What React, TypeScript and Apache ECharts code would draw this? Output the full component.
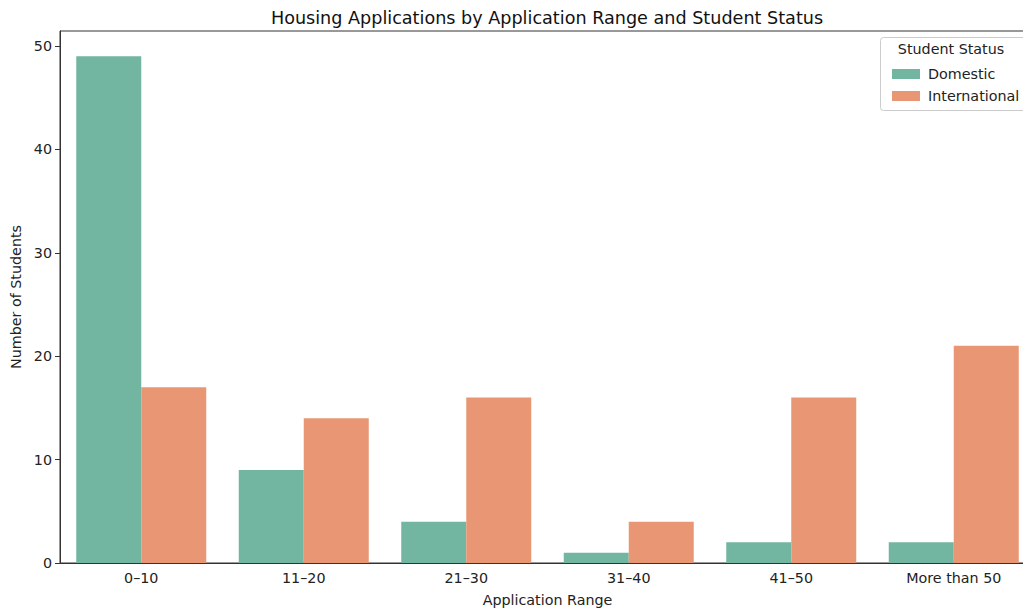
import React, { useEffect, useRef } from "react";
import * as echarts from "echarts";

const categories = ["0–10", "11–20", "21–30", "31–40", "41–50", "More than 50"];
const domestic = [49, 9, 4, 1, 2, 2];
const international = [17, 14, 16, 4, 16, 21];
const seriesNames = ["Domestic", "International"];
const yTicks = [0, 10, 20, 30, 40, 50];

export default function App() {
  const ref = useRef<HTMLDivElement>(null);
  useEffect(() => {
    if (!ref.current) return;
    const chart = echarts.init(ref.current, null, { renderer: "svg" });
    const font = "DejaVu Sans";
    const fs = 14.3;
    chart.setOption({
      animation: false,
      backgroundColor: "#ffffff",
      textStyle: { fontFamily: font },
      title: {
        text: "Housing Applications by Application Range and Student Status",
        left: 542,
        top: 4,
        textAlign: "center",
        textStyle: { fontFamily: font, fontSize: 17.6, fontWeight: "normal", color: "#111" },
      },
      grid: { left: 60, top: 31, width: 975, height: 532, show: true, borderColor: "#333", borderWidth: 1 },
      legend: {
        orient: "vertical",
        left: 887,
        top: 62,
        itemWidth: 28,
        itemHeight: 10,
        itemGap: 8,
        icon: "rect",
        data: seriesNames,
        textStyle: { fontFamily: font, fontSize: fs, color: "#222", padding: [0, 0, 0, 3] },
      },
      graphic: [
        {
          type: "rect",
          shape: { x: 880.5, y: 37.5, width: 170, height: 73, r: 3 },
          style: { fill: "rgba(255,255,255,0.8)", stroke: "#cccccc", lineWidth: 1 },
          z: 0,
        },
        {
          type: "text",
          x: 951,
          y: 42,
          style: { text: "Student Status", fontFamily: font, fontSize: fs, fill: "#222", textAlign: "center" },
          z: 10,
        },
      ],
      xAxis: {
        type: "category",
        data: categories,
        name: "Application Range",
        nameLocation: "middle",
        nameGap: 30,
        nameTextStyle: { fontFamily: font, fontSize: fs, color: "#222" },
        axisLine: { lineStyle: { color: "#333", width: 1 } },
        axisTick: { alignWithLabel: true, length: 5, lineStyle: { color: "#333" } },
        axisLabel: { fontFamily: font, fontSize: fs, color: "#222", margin: 8 },
        splitLine: { show: false },
      },
      yAxis: {
        type: "value",
        min: 0,
        max: 51.45,
        interval: 10,
        name: "Number of Students",
        nameLocation: "middle",
        nameGap: 36,
        nameTextStyle: { fontFamily: font, fontSize: fs, color: "#222" },
        axisLine: { show: true, lineStyle: { color: "#333", width: 1 } },
        axisTick: { show: true, length: 5, lineStyle: { color: "#333" } },
        axisLabel: {
          fontFamily: font,
          fontSize: fs,
          color: "#222",
          margin: 8,
          showMaxLabel: false,
          formatter: (v: number) => (yTicks.includes(v) ? String(v) : ""),
        },
        splitLine: { show: false },
      },
      series: [
        {
          name: seriesNames[0],
          type: "bar",
          data: domestic,
          barGap: "0%",
          barCategoryGap: "20%",
          itemStyle: { color: "#72b6a1" },
          z: 3,
        },
        {
          name: seriesNames[1],
          type: "bar",
          data: international,
          barGap: "0%",
          barCategoryGap: "20%",
          itemStyle: { color: "#e99675" },
          z: 3,
        },
      ],
    });
    return () => chart.dispose();
  }, []);
  return (
    <div style={{ position: "absolute", left: 0, top: 0, width: 1023, height: 613, overflow: "hidden" }}>
      <div ref={ref} style={{ width: 1050, height: 613 }} />
    </div>
  );
}
